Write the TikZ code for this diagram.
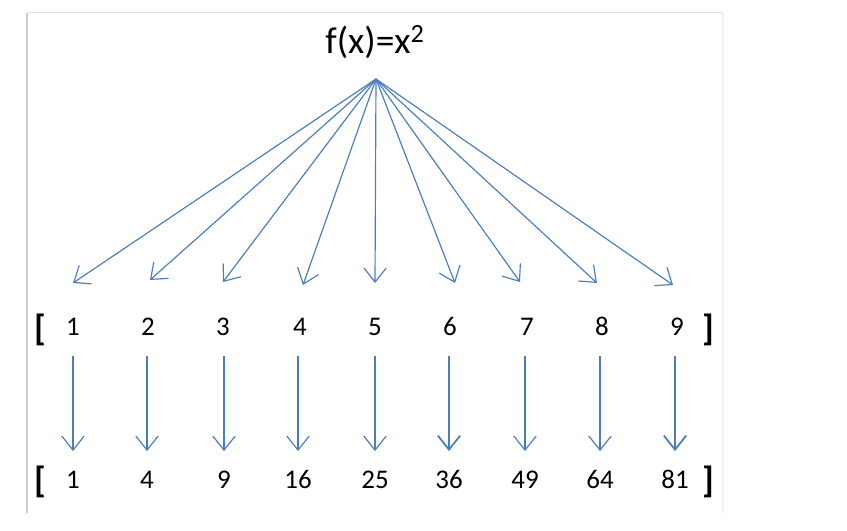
\documentclass[tikz,border=0pt]{standalone}
\usepackage{fontspec}
\setmainfont{Carlito}
\usetikzlibrary{arrows.meta, positioning}
\definecolor{mapblue}{HTML}{4A7EBB}
\begin{document}
\begin{tikzpicture}[x=0.3mm, y=-0.3mm]
    % --- Style Definitions ---
    \tikzset{
        % Numbers in both rows
        entry/.style={
            font=\fontsize{23}{23}\selectfont,
            inner sep=0pt,
            text height=0.63em,
            text depth=0pt,
            text=black
        },
        % Square brackets around the lists
        bracket/.style={
            font=\fontsize{31}{31}\selectfont\bfseries,
            inner sep=0pt
        },
        % The function label
        func label/.style={
            font=\fontsize{32}{32}\selectfont,
            text=black
        },
        % Arrows from f(x) and between the rows
        map arrow/.style={
            -{Straight Barb[length=12pt, width=19pt]},
            line width=1pt,
            draw=mapblue
        },
        % Outer frame
        frame line/.style={
            line width=1.6pt
        }
    }

    \useasboundingbox (0,0) rectangle (847,530);

    % --- 1. Frame ---
    \draw[frame line, draw=black!20] (27,513) -- (27,12.5);
    \draw[frame line, draw=black!12] (27,12.5) -- (723,12.5);
    \draw[frame line, draw=black!5] (723,12.5) -- (723,513);

    % --- 2. Function label ---
    \node[func label] (func) at (375,42) {f(x)=x\textsuperscript{2}};
    \coordinate (apex) at (376,79);

    % --- 3. Input list ---
    \node[bracket] (lopen) at (40,330) {[};
    \node[entry] (a1) at (73,332) {1};
    \node[entry] (a2) at (148,332) {2};
    \node[entry] (a3) at (223,332) {3};
    \node[entry] (a4) at (300,332) {4};
    \node[entry] (a5) at (375,332) {5};
    \node[entry] (a6) at (450,332) {6};
    \node[entry] (a7) at (527,332) {7};
    \node[entry] (a8) at (602,332) {8};
    \node[entry] (a9) at (677,332) {9};
    \node[bracket] (lclose) at (708,330) {]};

    % --- 4. Output list ---
    \node[bracket] (ropen) at (40,482) {[};
    \node[entry] (b1) at (73,485) {1};
    \node[entry] (b2) at (147,485) {4};
    \node[entry] (b3) at (224,485) {9};
    \node[entry] (b4) at (298,485) {16};
    \node[entry] (b5) at (375,485) {25};
    \node[entry] (b6) at (449,485) {36};
    \node[entry] (b7) at (525,485) {49};
    \node[entry] (b8) at (600,485) {64};
    \node[entry] (b9) at (675,485) {81};
    \node[bracket] (rclose) at (708,482) {]};

    % --- 5. Fan of arrows from f(x) ---
    % Tips stop well above the numbers
    \coordinate (t1) at (73,283);
    \coordinate (t2) at (150,280);
    \coordinate (t3) at (223,282);
    \coordinate (t4) at (303,285);
    \coordinate (t5) at (375,283);
    \coordinate (t6) at (455,283);
    \coordinate (t7) at (520,282);
    \coordinate (t8) at (597,283);
    \coordinate (t9) at (673,285);
    \draw[map arrow] (apex) -- (t1);
    \draw[map arrow] (apex) -- (t2);
    \draw[map arrow] (apex) -- (t3);
    \draw[map arrow] (apex) -- (t4);
    \draw[map arrow] (apex) -- (t5);
    \draw[map arrow] (apex) -- (t6);
    \draw[map arrow] (apex) -- (t7);
    \draw[map arrow] (apex) -- (t8);
    \draw[map arrow] (apex) -- (t9);

    % --- 6. Arrows from input to output ---
    \draw[map arrow, shorten <=6mm, shorten >=9mm] (b1 |- a1.south) -- (b1.north);
    \draw[map arrow, shorten <=6mm, shorten >=9mm] (b2 |- a2.south) -- (b2.north);
    \draw[map arrow, shorten <=6mm, shorten >=9mm] (b3 |- a3.south) -- (b3.north);
    \draw[map arrow, shorten <=6mm, shorten >=9mm] (b4 |- a4.south) -- (b4.north);
    \draw[map arrow, shorten <=6mm, shorten >=9mm] (b5 |- a5.south) -- (b5.north);
    \draw[map arrow, line width=1.5pt, shorten <=6mm, shorten >=9mm] (b6 |- a6.south) -- (b6.north);
    \draw[map arrow, shorten <=6mm, shorten >=9mm] (b7 |- a7.south) -- (b7.north);
    \draw[map arrow, shorten <=6mm, shorten >=9mm] (b8 |- a8.south) -- (b8.north);
    \draw[map arrow, line width=1.5pt, shorten <=6mm, shorten >=9mm] (b9 |- a9.south) -- (b9.north);

\end{tikzpicture}
\end{document}
